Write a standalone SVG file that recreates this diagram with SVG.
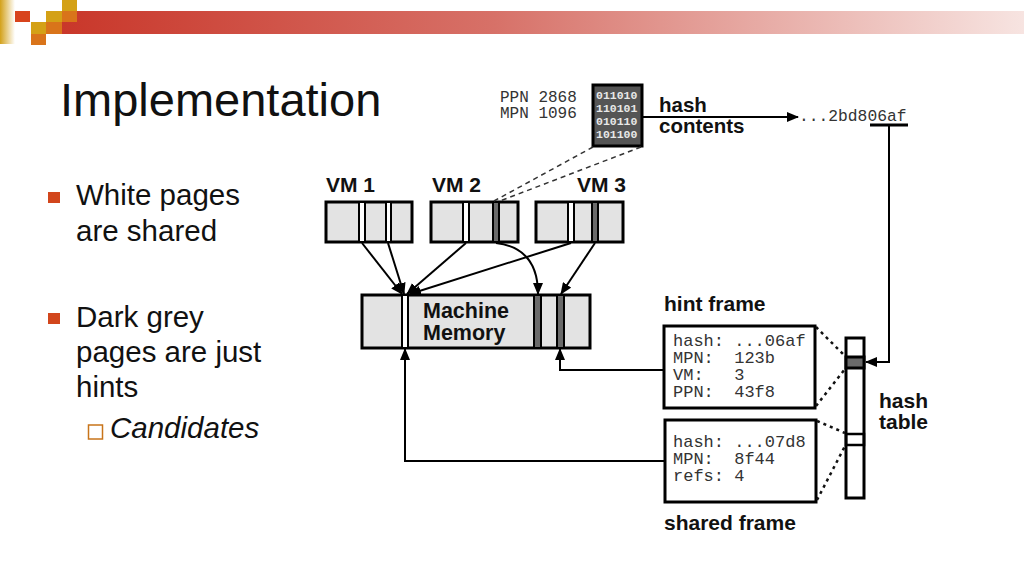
<svg xmlns="http://www.w3.org/2000/svg" width="1024" height="576" viewBox="0 0 1024 576">
<defs>
<linearGradient id="bar" x1="0" y1="0" x2="1" y2="0">
<stop offset="0" stop-color="#c9372a"/>
<stop offset="0.45" stop-color="#d77168"/>
<stop offset="1" stop-color="#f7e4e1"/>
</linearGradient>
<linearGradient id="gold" x1="0" y1="0" x2="1" y2="0">
<stop offset="0" stop-color="#d3a11a"/>
<stop offset="1" stop-color="#ffffff"/>
</linearGradient>
<marker id="ah" markerUnits="userSpaceOnUse" markerWidth="12" markerHeight="10" refX="11" refY="5" orient="auto">
<path d="M0,0 L12,5 L0,10 z" fill="#000"/>
</marker>
</defs>
<style>
.blk{fill:#e3e3e3;stroke:#000;stroke-width:3}
.ws{fill:#fff;stroke:#000;stroke-width:2}
.ds{fill:#6a6a6a;stroke:#000;stroke-width:2}
.lbl{font-family:"Liberation Sans",Arial,sans-serif;font-weight:bold;fill:#111}
.mono{font-family:"Liberation Mono","Courier New",monospace;fill:#333}
.frame{fill:#fff;stroke:#000;stroke-width:3}
.con{fill:none;stroke:#000;stroke-width:2}
.dash{fill:none;stroke:#333;stroke-width:1.5;stroke-dasharray:5,4}
.dot{fill:none;stroke:#111;stroke-width:2.5;stroke-dasharray:3,4}
.body{font-family:"Liberation Sans",Arial,sans-serif;font-size:29.5px;fill:#111}
</style>
<rect width="1024" height="576" fill="#fff"/>
<g id="header">
<rect x="62" y="11" width="962" height="23" fill="url(#bar)"/>
<rect x="0" y="0" width="15" height="44" fill="url(#gold)"/>
<rect x="15" y="11" width="15" height="11" fill="#d8441c"/>
<rect x="62" y="0" width="15" height="11" fill="#d4a116"/>
<rect x="46" y="11" width="16" height="11" fill="#d4a116"/>
<rect x="62" y="11" width="15" height="11" fill="#d9741a"/>
<rect x="31" y="22" width="15" height="12" fill="#d4a116"/>
<rect x="46" y="22" width="16" height="12" fill="#d9741a"/>
<rect x="31" y="34" width="15" height="11" fill="#d9741a"/>
</g>
<text x="60" y="116" font-family="Liberation Sans,Arial,sans-serif" font-size="47" fill="#111">Implementation</text>
<g id="bullets">
<rect x="48" y="192" width="12" height="11" fill="#d2461c"/>
<text class="body" x="76" y="205">White pages</text>
<text class="body" x="76" y="241">are shared</text>
<rect x="48" y="313" width="12" height="11" fill="#d2461c"/>
<text class="body" x="76" y="327">Dark grey</text>
<text class="body" x="76" y="362">pages are just</text>
<text class="body" x="76" y="397">hints</text>
<rect x="88.5" y="425" width="14" height="14" fill="none" stroke="#c8741a" stroke-width="1.5"/>
<text x="110" y="438" font-family="Liberation Sans,Arial,sans-serif" font-size="29.5" font-style="italic" fill="#111">Candidates</text>
</g>
<g id="vm1">
<text class="lbl" x="326" y="192" font-size="21">VM 1</text>
<rect class="blk" x="326" y="202" width="86" height="40"/>
<rect class="ws" x="359" y="202" width="6" height="40"/>
<rect class="ws" x="386" y="202" width="5" height="40"/>
</g>
<g id="vm2">
<text class="lbl" x="432" y="192" font-size="21">VM 2</text>
<rect class="blk" x="431" y="202" width="87" height="40"/>
<rect class="ws" x="463" y="202" width="6" height="40"/>
<rect class="ds" x="493" y="202" width="6" height="40"/>
</g>
<g id="vm3">
<text class="lbl" x="577" y="192" font-size="21">VM 3</text>
<rect class="blk" x="536" y="202" width="87" height="40"/>
<rect class="ws" x="568" y="202" width="6" height="40"/>
<rect class="ds" x="592" y="202" width="6" height="40"/>
</g>
<g id="machine-memory">
<rect class="blk" x="362" y="295" width="228" height="53"/>
<rect class="ws" x="402" y="295" width="6" height="53"/>
<rect class="ds" x="534" y="295" width="7" height="53"/>
<rect class="ds" x="557" y="295" width="7" height="53"/>
<text class="lbl" x="423" y="318" font-size="21.5">Machine</text>
<text class="lbl" x="423" y="340" font-size="21.5">Memory</text>
</g>
<g id="page">
<text class="mono" x="500" y="102" font-size="16">PPN 2868</text>
<text class="mono" x="500" y="118" font-size="16">MPN 1096</text>
<rect x="593" y="85" width="49" height="61" fill="#555" stroke="#000" stroke-width="3"/>
<g font-family="Liberation Mono,monospace" font-size="11.5" font-weight="bold" fill="#e8e8e8">
<text x="596" y="99">011010</text>
<text x="596" y="112">110101</text>
<text x="596" y="125">010110</text>
<text x="596" y="138">101100</text>
</g>
<text class="lbl" x="659" y="112" font-size="20.5">hash</text>
<text class="lbl" x="659" y="133" font-size="20.5">contents</text>
</g>
<g id="hash-value">
<text class="mono" x="799" y="121" font-size="16.3">...2bd806af</text>
<line x1="870" y1="125" x2="908" y2="125" stroke="#000" stroke-width="3"/>
</g>
<g id="hint-frame">
<text class="lbl" x="664" y="311" font-size="21">hint frame</text>
<rect class="frame" x="664" y="326" width="151" height="82"/>
<g class="mono" font-size="17">
<text x="673" y="346" xml:space="preserve">hash: ...06af</text>
<text x="673" y="363" xml:space="preserve">MPN:  123b</text>
<text x="673" y="380" xml:space="preserve">VM:   3</text>
<text x="673" y="397" xml:space="preserve">PPN:  43f8</text>
</g>
</g>
<g id="shared-frame">
<rect class="frame" x="665" y="420" width="151" height="82"/>
<g class="mono" font-size="17">
<text x="673" y="447" xml:space="preserve">hash: ...07d8</text>
<text x="673" y="464" xml:space="preserve">MPN:  8f44</text>
<text x="673" y="481" xml:space="preserve">refs: 4</text>
</g>
<text class="lbl" x="664" y="530" font-size="21">shared frame</text>
</g>
<g id="hash-table">
<rect x="846" y="338" width="18" height="160" fill="#fff" stroke="#000" stroke-width="3"/>
<rect x="846" y="357" width="18" height="11" fill="#6a6a6a" stroke="#000" stroke-width="3"/>
<rect x="846" y="434" width="18" height="11" fill="none" stroke="#000" stroke-width="2.5"/>
<text class="lbl" x="879" y="408" font-size="21">hash</text>
<text class="lbl" x="879" y="429" font-size="21">table</text>
</g>
<g id="connectors">
<line class="con" x1="362" y1="243" x2="402" y2="294" marker-end="url(#ah)"/>
<line class="con" x1="388" y1="243" x2="404" y2="294" marker-end="url(#ah)"/>
<line class="con" x1="466" y1="243" x2="407" y2="294" marker-end="url(#ah)"/>
<line class="con" x1="571" y1="243" x2="410" y2="294" marker-end="url(#ah)"/>
<path class="con" d="M496,243 Q538,248 538,294" marker-end="url(#ah)"/>
<line class="con" x1="595" y1="243" x2="561" y2="294" marker-end="url(#ah)"/>
<line class="con" x1="643" y1="117" x2="798" y2="117" marker-end="url(#ah)"/>
<path class="con" d="M889,125 V362 H866" marker-end="url(#ah)"/>
<path class="con" d="M663,370 H560 V349" marker-end="url(#ah)"/>
<path class="con" d="M664,461 H405 V349" marker-end="url(#ah)"/>
<line class="dash" x1="593" y1="147" x2="494" y2="201"/>
<line class="dash" x1="641" y1="147" x2="500" y2="201"/>
<line class="dot" x1="816" y1="327" x2="845" y2="356"/>
<line class="dot" x1="816" y1="406" x2="845" y2="369"/>
<line class="dot" x1="817" y1="421" x2="845" y2="433"/>
<line class="dot" x1="817" y1="500" x2="845" y2="446"/>
</g>
</svg>
